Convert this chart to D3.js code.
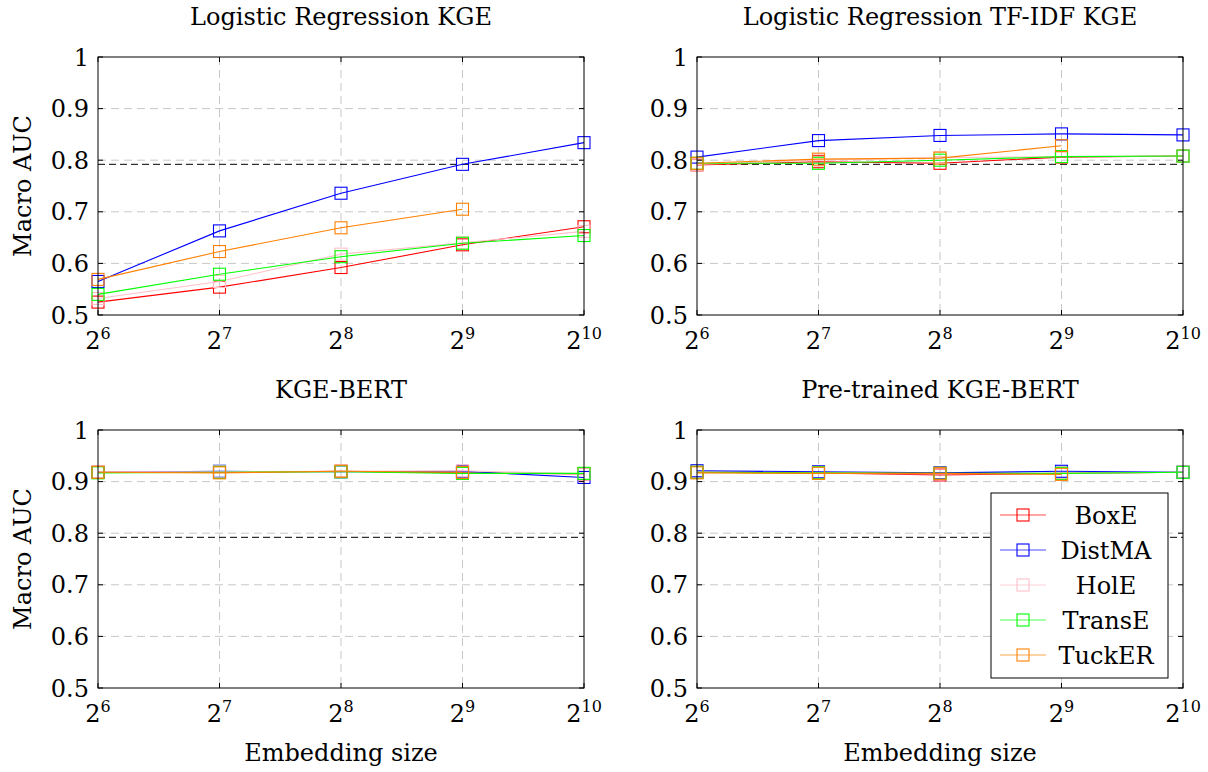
<!DOCTYPE html>
<html>
<head>
<meta charset="utf-8">
<script src="https://cdn.jsdelivr.net/npm/d3@7"></script>
<style>
  body { margin: 0; background: #fff; }
</style>
</head>
<body>
<div id="wrapper"></div>
<script>
// data
const sizes = [64, 128, 256, 512, 1024]
const models = ["BoxE", "DistMA", "HolE", "TransE", "TuckER"]
const colors = ["#ff0000", "#0000ff", "#ffc0cb", "#00ff00", "#ff8000"]
const yTicks = [0.5, 0.6, 0.7, 0.8, 0.9, 1]
const baseline = 0.792

const panelTitles = ["Logistic Regression KGE", "Logistic Regression TF-IDF KGE", "KGE-BERT", "Pre-trained KGE-BERT"]

// values per panel, per model (null = missing)
const lrKge = [
  [0.525, 0.554, 0.592, 0.636, 0.671],
  [0.565, 0.663, 0.736, 0.792, 0.834],
  [0.532, 0.565, 0.618, 0.640, 0.662],
  [0.540, 0.579, 0.613, 0.639, 0.654],
  [0.569, 0.623, 0.669, 0.705, null],
]
const lrTfidf = [
  [0.791, 0.797, 0.794, 0.806, 0.808],
  [0.806, 0.838, 0.848, 0.851, 0.849],
  [0.792, 0.800, 0.805, 0.807, 0.808],
  [0.794, 0.794, 0.800, 0.807, 0.808],
  [0.794, 0.802, 0.804, 0.828, null],
]
const kgeBert = [
  [0.918, 0.918, 0.920, 0.917, 0.915],
  [0.918, 0.920, 0.919, 0.920, 0.908],
  [0.919, 0.919, 0.920, 0.921, 0.915],
  [0.917, 0.918, 0.919, 0.916, 0.916],
  [0.918, 0.917, 0.920, 0.918, null],
]
const ptKgeBert = [
  [0.918, 0.917, 0.913, 0.916, 0.918],
  [0.921, 0.919, 0.917, 0.920, 0.918],
  [0.918, 0.917, 0.915, 0.916, 0.918],
  [0.918, 0.917, 0.916, 0.916, 0.918],
  [0.917, 0.916, 0.916, 0.914, null],
]
const panelData = [lrKge, lrTfidf, kgeBert, ptKgeBert]

// dimensions
const width = 1208, height = 772
const panelW = 486, panelH = 258
const lefts = [98, 697], tops = [57, 430]
const fontFam = "'DejaVu Serif', serif"
const fs = "24px"

const svg = d3.select("#wrapper").append("svg")
  .attr("width", width).attr("height", height)

const x = d3.scaleLog().base(2).domain([64, 1024]).range([0, panelW])
const y = d3.scaleLinear().domain([0.5, 1]).range([panelH, 0])

panelData.forEach((pdata, pi) => {
  const col = pi % 2, row = Math.floor(pi / 2)
  const g = svg.append("g")
    .attr("transform", `translate(${lefts[col]},${tops[row]})`)

  // grid
  g.append("g").selectAll("line").data(yTicks.slice(1, -1)).join("line")
    .attr("x1", 0).attr("x2", panelW)
    .attr("y1", d => y(d)).attr("y2", d => y(d))
    .attr("stroke", "#c8c8c8").attr("stroke-dasharray", "8,5").attr("stroke-width", 1)
  g.append("g").selectAll("line").data(sizes.slice(1, -1)).join("line")
    .attr("y1", 0).attr("y2", panelH)
    .attr("x1", d => x(d)).attr("x2", d => x(d))
    .attr("stroke", "#c8c8c8").attr("stroke-dasharray", "8,5").attr("stroke-width", 1)

  // baseline
  g.append("line")
    .attr("x1", 0).attr("x2", panelW)
    .attr("y1", y(baseline)).attr("y2", y(baseline))
    .attr("stroke", "#000").attr("stroke-dasharray", "7,4").attr("stroke-width", 1)

  // series
  const line = d3.line()
    .defined(d => d != null)
    .x((d, i) => x(sizes[i]))
    .y(d => y(d))
  pdata.forEach((vals, mi) => {
    g.append("path")
      .attr("d", line(vals))
      .attr("fill", "none")
      .attr("stroke", colors[mi])
      .attr("stroke-width", 1.1)
    g.append("g").selectAll("rect")
      .data(vals.map((v, i) => ({ v, s: sizes[i] })).filter(d => d.v != null))
      .join("rect")
        .attr("x", d => x(d.s) - 6).attr("y", d => y(d.v) - 6)
        .attr("width", 12).attr("height", 12)
        .attr("fill", "none").attr("stroke", colors[mi]).attr("stroke-width", 1.1)
  })

  // frame
  g.append("rect")
    .attr("width", panelW).attr("height", panelH)
    .attr("fill", "none").attr("stroke", "#000").attr("stroke-width", 1)

  // ticks (inward, both sides)
  const tk = 5
  yTicks.forEach(t => {
    g.append("line").attr("x1", 0).attr("x2", tk).attr("y1", y(t)).attr("y2", y(t)).attr("stroke", "#000")
    g.append("line").attr("x1", panelW - tk).attr("x2", panelW).attr("y1", y(t)).attr("y2", y(t)).attr("stroke", "#000")
  })
  sizes.forEach(s => {
    g.append("line").attr("x1", x(s)).attr("x2", x(s)).attr("y1", panelH).attr("y2", panelH - tk).attr("stroke", "#000")
    g.append("line").attr("x1", x(s)).attr("x2", x(s)).attr("y1", 0).attr("y2", tk).attr("stroke", "#000")
  })

  // y tick labels
  g.append("g").selectAll("text").data(yTicks).join("text")
    .attr("x", -9).attr("y", d => y(d)).attr("dy", "0.36em")
    .attr("text-anchor", "end").attr("font-family", fontFam).attr("font-size", fs)
    .text(d => d === 1 ? "1" : d3.format(".1f")(d))

  // x tick labels 2^n
  const xt = g.append("g").selectAll("text").data(sizes).join("text")
    .attr("x", d => x(d)).attr("y", panelH + 34)
    .attr("text-anchor", "middle").attr("font-family", fontFam).attr("font-size", fs)
  xt.append("tspan").text("2")
  xt.append("tspan").attr("dy", -10).attr("font-size", "16px").text(d => Math.log2(d))

  // title
  g.append("text")
    .attr("x", panelW / 2).attr("y", -32)
    .attr("text-anchor", "middle").attr("font-family", fontFam).attr("font-size", fs)
    .text(panelTitles[pi])

  if (col === 0) {
    g.append("text")
      .attr("transform", `translate(${-67},${panelH / 2}) rotate(-90)`)
      .attr("text-anchor", "middle").attr("font-family", fontFam).attr("font-size", fs)
      .text("Macro AUC")
  }
  if (row === 1) {
    g.append("text")
      .attr("x", panelW / 2).attr("y", panelH + 73)
      .attr("text-anchor", "middle").attr("font-family", fontFam).attr("font-size", fs)
      .text("Embedding size")
  }

  // legend in last panel
  if (pi === 3) {
    const lg = g.append("g").attr("transform", `translate(${991 - lefts[1]},${493 - tops[1]})`)
    lg.append("rect").attr("width", 177).attr("height", 185)
      .attr("fill", "#fff").attr("stroke", "#000").attr("stroke-width", 1)
    models.forEach((m, i) => {
      const ly = 22 + i * 35
      lg.append("line").attr("x1", 9).attr("x2", 55).attr("y1", ly).attr("y2", ly)
        .attr("stroke", colors[i]).attr("stroke-width", 1.1).attr("opacity", 0.7)
      lg.append("rect").attr("x", 26).attr("y", ly - 6).attr("width", 12).attr("height", 12)
        .attr("fill", "none").attr("stroke", colors[i]).attr("stroke-width", 1.1)
      lg.append("text").attr("x", 115).attr("y", ly).attr("dy", "0.36em")
        .attr("text-anchor", "middle").attr("font-family", fontFam).attr("font-size", fs).text(m)
    })
  }
})
</script>
</body>
</html>
